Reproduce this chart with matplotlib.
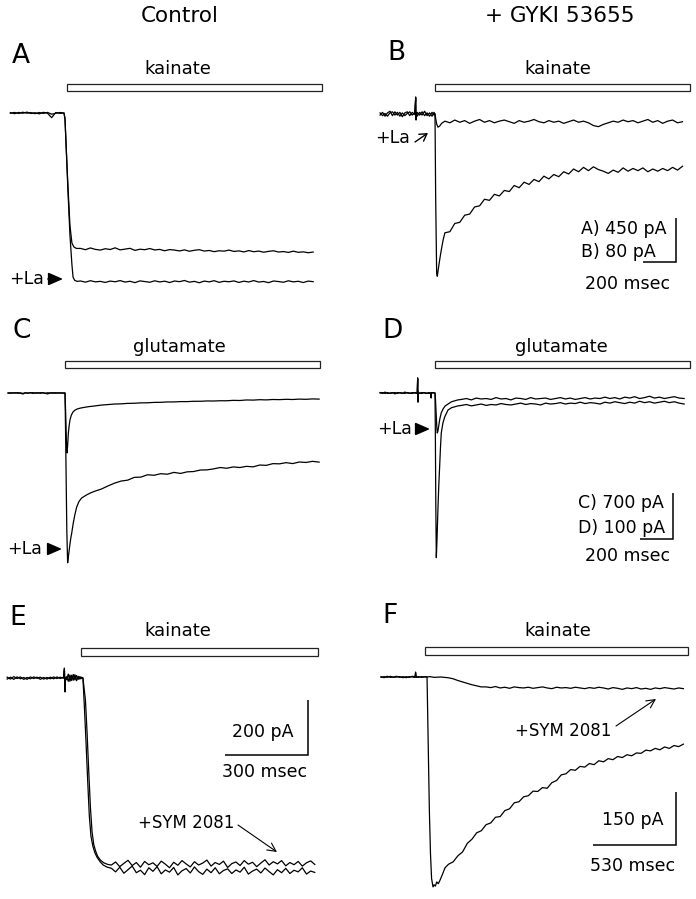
import numpy as np
import matplotlib
matplotlib.use("Agg")
import matplotlib.pyplot as plt
from matplotlib.patches import Rectangle

plt.rcParams['font.family'] = ['DejaVu Sans']

# ---------------- DATA (time in ms, current in pA, 0 = baseline) ----------------
# Panel A : Control, kainate (control trace and +La trace)
A_pre_t = np.arange(-325, 1, 25)
A_ctrl_pre = [4, -7, 6, -3, 9, -5, 3, -9, 7, -2, -48, 5, -4, 0]
A_la_pre = [-3, 6, -5, 8, -2, 4, -7, 5, -4, 6, -12, -3, 5, 0]
A_ctrl_rise_t = [6, 12, 24, 36, 48, 60, 75]
A_ctrl_rise = [-60, -300, -750, -1150, -1330, -1370, -1385]
A_la_rise_t = [6, 12, 24, 36, 48, 55, 65, 80]
A_la_rise = [-60, -300, -800, -1250, -1550, -1680, -1712, -1722]
A_plat_t = np.arange(100, 1521, 30)
A_ctrl_plat = [-1385, -1398, -1380, -1395, -1402, -1388, -1396, -1379, -1400, -1392,
               -1384, -1405, -1393, -1398, -1386, -1401, -1395, -1409, -1397, -1402,
               -1411, -1400, -1414, -1404, -1398, -1412, -1406, -1418, -1409, -1413,
               -1402, -1416, -1410, -1421, -1407, -1419, -1412, -1424, -1415, -1409,
               -1422, -1417, -1426, -1413, -1425, -1420, -1429, -1422]
A_la_plat = [-1718, -1730, -1715, -1727, -1722, -1733, -1719, -1726, -1714, -1729,
             -1721, -1735, -1717, -1724, -1731, -1716, -1728, -1720, -1734, -1718,
             -1725, -1713, -1730, -1722, -1736, -1719, -1727, -1715, -1732, -1721,
             -1726, -1717, -1733, -1720, -1728, -1714, -1729, -1723, -1735, -1718,
             -1724, -1731, -1716, -1727, -1721, -1734, -1719, -1725]
A_drug = (18, 1563)

# Panel B : + GYKI 53655, kainate
B_pre_t = [-333, -318, -303, -288, -273, -258, -243, -228, -213, -198,
           -183, -168, -153, -138, -123, -117, -115, -113, -108, -93,
           -78, -63, -48, -33, -18, -6, 0]
B_ctrl_pre = [-2, 3, -4, 2, 5, -3, 4, -2, 3, -5, 2, 4, -3, 3, -1, 31, -11, 2, -4, 3,
              -2, 5, -3, 2, -4, 3, 0]
B_la_pre = [2, -3, 1, -4, 2, 4, -2, 3, -4, 2, -3, 1, 4, -2, 2, 28, -9, -3, 3, -2,
            4, -3, 2, -4, 3, -2, 0]
B_ctrl_rise_t = [4, 10, 14, 20, 30, 40, 50]
B_ctrl_rise = [-150, -290, -295, -282, -262, -244, -228]
B_la_rise_t = [4, 10, 18, 28, 40, 50]
B_la_rise = [-8, -18, -24, -22, -17, -15]
B_plat_t = np.arange(60, 1521, 30)
B_ctrl_plat = [-216, -214, -199, -197, -184, -182, -169, -167, -155, -157,
               -146, -149, -139, -141, -130, -134, -124, -128, -119, -123,
               -113, -118, -110, -114, -105, -109, -100, -105, -97, -103,
               -96, -101, -104, -108, -102, -106, -98, -104, -99, -103,
               -98, -105, -100, -104, -99, -103, -97, -102, -95]
B_la_plat = [-13, -16, -11, -15, -12, -17, -13, -10, -15, -12,
             -16, -13, -11, -14, -17, -12, -15, -13, -10, -14,
             -16, -12, -15, -13, -17, -14, -11, -15, -13, -16,
             -21, -23, -19, -16, -13, -15, -11, -14, -12, -16,
             -13, -10, -15, -12, -17, -13, -11, -16, -14]
B_drug = (0, 1545)

# Panel C : Control, glutamate
C_pre_t = np.arange(-345, 1, 15)
C_ctrl_pre = [3, -5, 4, -2, 6, -4, -15, 2, -3, 5, -6, 3, -2, 4, 6, -5, -14, 3, -4, 5, -2, 4, -3, 0]
C_la_pre = [-3, 4, -2, 5, -4, 2, -6, 4, -2, 3, 5, -3, 4, -5, 2, -3, 4, -2, 5, -4, 3, -2, 2, 0]
C_ctrl_rise_t = [4, 8, 12, 16, 20, 25, 30, 38, 48, 60, 75]
C_ctrl_rise = [-300, -700, -912, -800, -620, -500, -410, -340, -290, -262, -242]
C_la_rise_t = [3, 7, 11, 16, 20, 25, 30, 35, 41, 50, 60, 71, 85, 100, 115, 135, 155]
C_la_rise = [-500, -1300, -2100, -2584, -2500, -2400, -2300, -2210, -2128, -1980,
             -1850, -1733, -1650, -1600, -1575, -1545, -1520]
C_ctrl_plat_t = np.arange(100, 1541, 40)
C_ctrl_plat = [-226, -209, -197, -184, -176, -168, -165, -158, -156, -150, -149, -143,
               -142, -136, -136, -131, -131, -126, -126, -121, -122, -118, -118, -112,
               -114, -106, -108, -102, -105, -99, -101, -96, -99, -93, -96, -90, -93]
C_la_plat_t = np.arange(180, 1541, 40)
C_la_plat = [-1495, -1462, -1415, -1372, -1340, -1326, -1284, -1280, -1244, -1252,
             -1228, -1236, -1208, -1224, -1200, -1195, -1172, -1170, -1155, -1134,
             -1145, -1125, -1134, -1116, -1124, -1096, -1101, -1075, -1078, -1060,
             -1074, -1050, -1057, -1040, -1052]
C_drug = (0, 1545)

# Panel D : + GYKI 53655, glutamate
D_pre_t = [-333, -318, -303, -288, -273, -258, -243, -228, -213, -198,
           -183, -168, -153, -138, -123, -108, -105, -103, -101, -96,
           -81, -66, -51, -36, -27, -24, -21, -12, 0]
D_ctrl_pre = [1, -1, 2, -1, 0, 1, -2, 1, 0, -1, 2, 0, -1, 1, 0, -1, 33, -20, 2, 0,
              -1, 1, 0, -1, 0, -11, 0, 1, 0]
D_la_pre = [0, 1, -1, 1, -1, 0, 1, -1, 1, 0, -1, 1, 0, -1, 1, 0, 30, -18, 1, -1,
            1, 0, -1, 1, 0, -9, 1, 0, 0]
D_ctrl_rise_t = [2, 5, 8, 12, 18, 23, 28, 33, 38, 48, 59, 79, 100, 139]
D_ctrl_rise = [-80, -250, -358, -320, -250, -200, -161, -120, -87, -65, -52, -37, -32, -28]
D_la_rise_t = [3, 7, 11, 14, 18, 24, 30, 38, 50, 62, 79, 100, 139]
D_la_rise = [-15, -45, -75, -87, -82, -68, -55, -43, -34, -28, -24, -19, -15]
D_plat_t = np.arange(160, 1521, 30)
D_ctrl_plat = [-27, -25, -28, -26, -24, -27, -25, -26, -23, -25,
               -26, -24, -22, -25, -23, -24, -26, -22, -24, -23,
               -21, -24, -22, -23, -20, -23, -21, -22, -24, -20,
               -22, -19, -21, -23, -20, -22, -18, -21, -19, -22,
               -20, -18, -21, -19, -22, -24]
D_la_plat = [-14, -12, -15, -11, -13, -12, -14, -10, -13, -12,
             -15, -11, -12, -14, -10, -13, -12, -11, -14, -12,
             -10, -13, -11, -14, -12, -10, -13, -11, -12, -9,
             -12, -10, -13, -9, -11, -8, -12, -10, -7, -11,
             -9, -12, -10, -8, -11, -12]
D_drug = (0, 1545)

# Panel E : Control, kainate (control and +SYM 2081)
E_pre_t = [-267, -255, -243, -231, -219, -207, -195, -183, -171, -159,
           -147, -135, -123, -111, -99, -87, -75, -63, -60, -58,
           -56, -52, -46, -40, -34, -28, -22, -16, -10, -4, 2, 7]
E_ctrl_pre = [3, -4, 5, -2, 4, -5, 2, -3, 4, -1, 3, -4, 2, -3, 4, -2, 3, -1, 36, -51,
              2, -6, 14, -12, 10, -8, 12, -10, 6, -4, 3, 0]
E_sym_pre = [-4, 3, -5, 4, -3, 2, -5, 4, -2, 3, -5, 2, -4, 3, -3, 4, -2, 3, 30, -45,
             -3, 5, -12, 11, -9, 13, -7, 9, -5, 5, -2, 0]
E_ctrl_rise_t = [12, 18, 24, 30, 36, 43, 50, 58, 69, 80, 95]
E_ctrl_rise = [-100, -230, -370, -500, -575, -612, -635, -652, -668, -680, -688]
E_sym_rise_t = [16, 22, 28, 34, 40, 46, 53, 60, 70, 82, 97]
E_sym_rise = [-80, -200, -340, -470, -560, -605, -630, -648, -662, -672, -678]
E_plat_t = np.arange(110, 851, 15)
E_ctrl_plat = [-692, -705, -688, -710, -697, -684, -708, -699, -715, -690,
               -703, -686, -712, -698, -706, -689, -716, -701, -693, -709,
               -687, -704, -714, -695, -708, -690, -712, -700, -694, -711,
               -698, -706, -688, -713, -702, -695, -709, -691, -704, -716,
               -697, -708, -692, -711, -699, -705, -690, -713, -702, -707]
E_sym_plat = [-680, -669, -686, -674, -663, -682, -671, -688, -667, -679,
              -672, -685, -666, -677, -690, -670, -681, -664, -676, -687,
              -668, -680, -673, -662, -684, -671, -678, -666, -689, -675,
              -669, -682, -664, -677, -670, -686, -673, -661, -680, -668,
              -676, -664, -683, -671, -679, -667, -684, -672, -665, -678]
E_drug = (0, 855)

# Panel F : + GYKI 53655, kainate (control and +SYM 2081)
F_pre_t = [-281, -261, -241, -221, -201, -181, -161, -141, -121, -101,
           -81, -64, -60, -57, -54, -40, -20, 0, 13]
F_ctrl_pre = [1, -2, 2, -1, 0, 2, -1, 1, -2, 1, 0, -1, 14, 2, -1, 1, -1, 1, 0]
F_sym_pre = [-1, 1, -1, 2, -1, 0, 1, -2, 1, -1, 2, 0, 10, -1, 1, -1, 1, 0, 0]
F_ctrl_rise_t = [17, 22, 28, 35, 42, 51, 58, 66, 75, 85, 96, 110, 128]
F_ctrl_rise = [-100, -230, -380, -500, -570, -594, -588, -592, -580, -585, -575, -560, -540]
F_ctrl_plat_t = np.arange(150, 1669, 30)
F_ctrl_plat = [-530, -523, -506, -495, -471, -459, -441, -435, -418, -413,
               -397, -395, -378, -373, -356, -353, -339, -336, -323, -324,
               -313, -315, -299, -293, -277, -274, -262, -264, -253, -255,
               -245, -248, -237, -240, -231, -234, -225, -228, -220, -223,
               -215, -216, -207, -209, -202, -206, -198, -202, -194, -197, -190]
F_sym_rise_t = [30, 60, 100, 147, 180, 210, 240, 270, 300, 330, 358]
F_sym_rise = [1, -1, 0, -2, -5, -10, -14, -18, -22, -25, -28]
F_sym_plat_t = np.arange(390, 1669, 30)
F_sym_plat = [-28, -30, -27, -31, -29, -32, -28, -30, -31, -29,
              -32, -30, -28, -31, -33, -29, -31, -30, -32, -29,
              -31, -33, -30, -32, -29, -31, -34, -30, -32, -35,
              -31, -33, -30, -34, -32, -35, -31, -33, -30, -32,
              -34, -31, -33]
F_drug = (0, 1680)

# Scale bar sizes (ms, pA)
SB_AB = (200, 80)      # drawn in B units (A: 450 pA)
SB_CD = (200, 100)     # drawn in D units (C: 700 pA)
SB_E = (300, 200)
SB_F = (530, 150)

# ---------------- LAYOUT ----------------
W, H = 696, 899
fig = plt.figure(figsize=(W / 100, H / 100), dpi=100)

# box (left, top, right, bottom) px; t0 px; baseline px; ms per px; pA per px
GEOM = {
    'A': dict(box=(0, 40, 348, 305), t0=64, base=113, ms=200 / 33, pa=450 / 44, bar=(84, 91)),
    'B': dict(box=(348, 40, 696, 305), t0=435, base=114, ms=200 / 33, pa=80 / 44, bar=(84, 91)),
    'C': dict(box=(0, 318, 348, 595), t0=65, base=393, ms=200 / 33, pa=700 / 46, bar=(361, 368)),
    'D': dict(box=(348, 318, 696, 595), t0=435, base=393, ms=200 / 33, pa=100 / 46, bar=(361, 368)),
    'E': dict(box=(0, 600, 348, 899), t0=81, base=678, ms=300 / 83, pa=200 / 55, bar=(648, 656)),
    'F': dict(box=(348, 600, 696, 899), t0=425, base=677, ms=530 / 83, pa=150 / 53, bar=(647, 655)),
}

LW = 0.9


def add_panel(g):
    l, t, r, b = g['box']
    ax = fig.add_axes([l / W, 1 - b / H, (r - l) / W, (b - t) / H])
    ax.set_xlim((l - g['t0']) * g['ms'], (r - g['t0']) * g['ms'])
    ax.set_ylim(-(b - g['base']) * g['pa'], -(t - g['base']) * g['pa'])
    ax.axis('off')
    return ax


def ypa(g, py):
    return -(py - g['base']) * g['pa']


def px_t(g, px):
    return (px - g['t0']) * g['ms']


def trace(ax, ts, vs):
    ax.plot(np.concatenate([np.asarray(x, float) for x in ts]),
            np.concatenate([np.asarray(v, float) for v in vs]),
            color='black', lw=LW, zorder=3)


def drug_bar(ax, g, span):
    y0, y1 = ypa(g, g['bar'][1]), ypa(g, g['bar'][0])
    ax.add_patch(Rectangle((span[0], y0), span[1] - span[0], y1 - y0,
                           facecolor='white', edgecolor='#222222', lw=0.9, zorder=2))


def scale_bar(ax, g, corner_px, size):
    ct, ci = px_t(g, corner_px[0]), ypa(g, corner_px[1])
    ax.plot([ct - size[0], ct, ct], [ci, ci, ci + size[1]], color='black', lw=1.1,
            solid_joinstyle='miter', solid_capstyle='butt', zorder=3)


def ftext(px, py, s, size=13, ha='center', va='center'):
    fig.text(px / W, 1 - py / H, s, fontsize=size, ha=ha, va=va, color='black')


def arrow(p_from, p_to, style, lw=0.9, ms=10):
    fig.add_artist(matplotlib.patches.FancyArrowPatch(
        (p_from[0] / W, 1 - p_from[1] / H), (p_to[0] / W, 1 - p_to[1] / H),
        transform=fig.transFigure, arrowstyle=style, lw=lw, mutation_scale=ms,
        color='black', shrinkA=0, shrinkB=0))


axA = add_panel(GEOM['A'])
axB = add_panel(GEOM['B'])
axC = add_panel(GEOM['C'])
axD = add_panel(GEOM['D'])
axE = add_panel(GEOM['E'])
axF = add_panel(GEOM['F'])

# Traces
trace(axA, [A_pre_t, A_ctrl_rise_t, A_plat_t], [A_ctrl_pre, A_ctrl_rise, A_ctrl_plat])
trace(axA, [A_pre_t, A_la_rise_t, A_plat_t], [A_la_pre, A_la_rise, A_la_plat])
trace(axB, [B_pre_t, B_ctrl_rise_t, B_plat_t], [B_ctrl_pre, B_ctrl_rise, B_ctrl_plat])
trace(axB, [B_pre_t, B_la_rise_t, B_plat_t], [B_la_pre, B_la_rise, B_la_plat])
trace(axC, [C_pre_t, C_ctrl_rise_t, C_ctrl_plat_t], [C_ctrl_pre, C_ctrl_rise, C_ctrl_plat])
trace(axC, [C_pre_t, C_la_rise_t, C_la_plat_t], [C_la_pre, C_la_rise, C_la_plat])
trace(axD, [D_pre_t, D_ctrl_rise_t, D_plat_t], [D_ctrl_pre, D_ctrl_rise, D_ctrl_plat])
trace(axD, [D_pre_t, D_la_rise_t, D_plat_t], [D_la_pre, D_la_rise, D_la_plat])
trace(axE, [E_pre_t, E_ctrl_rise_t, E_plat_t], [E_ctrl_pre, E_ctrl_rise, E_ctrl_plat])
trace(axE, [E_pre_t, E_sym_rise_t, E_plat_t], [E_sym_pre, E_sym_rise, E_sym_plat])
trace(axF, [F_pre_t, F_ctrl_rise_t, F_ctrl_plat_t], [F_ctrl_pre, F_ctrl_rise, F_ctrl_plat])
trace(axF, [F_pre_t, F_sym_rise_t, F_sym_plat_t], [F_sym_pre, F_sym_rise, F_sym_plat])

# Drug application bars
for ax, key, span in [(axA, 'A', A_drug), (axB, 'B', B_drug), (axC, 'C', C_drug),
                      (axD, 'D', D_drug), (axE, 'E', E_drug), (axF, 'F', F_drug)]:
    drug_bar(ax, GEOM[key], span)

# Scale bars
scale_bar(axB, GEOM['B'], (676, 262), SB_AB)
scale_bar(axD, GEOM['D'], (673, 539), SB_CD)
scale_bar(axE, GEOM['E'], (308, 755), SB_E)
scale_bar(axF, GEOM['F'], (676, 845), SB_F)

# Column titles
ftext(180, 16, 'Control', size=15.5)
ftext(560, 16, '+ GYKI 53655', size=15.5)

# Panel letters
for s, x, y in [('A', 12, 56), ('B', 387, 53), ('C', 12, 331), ('D', 382, 331),
                ('E', 9, 618), ('F', 382, 616)]:
    ftext(x, y, s, size=19, ha='left')

# Agonist labels
ftext(178, 69, 'kainate')
ftext(558, 69, 'kainate')
ftext(179, 347, 'glutamate')
ftext(561, 347, 'glutamate')
ftext(178, 631, 'kainate')
ftext(558, 631, 'kainate')

# +La labels and arrows
HEAD = '-|>,head_length=0.8,head_width=0.35'
ftext(9, 279, '+La', size=12.5, ha='left')
arrow((48, 279), (63, 279), HEAD, lw=1.2, ms=11)
ftext(7, 549, '+La', size=12.5, ha='left')
arrow((48, 549), (62, 549), HEAD, lw=1.2, ms=11)
ftext(377, 429, '+La', size=12.5, ha='left')
arrow((416, 429), (430, 429), HEAD, lw=1.2, ms=11)
ftext(375, 138, '+La', size=12.5, ha='left')
arrow((415, 142), (428, 133), '->,head_length=0.5,head_width=0.3', lw=1.0, ms=10)

# Scale labels
ftext(581, 229, 'A) 450 pA', size=12.5, ha='left')
ftext(581, 252, 'B) 80 pA', size=12.5, ha='left')
ftext(628, 284, '200 msec', size=12.5)
ftext(578, 503, 'C) 700 pA', size=12.5, ha='left')
ftext(578, 528, 'D) 100 pA', size=12.5, ha='left')
ftext(628, 556, '200 msec', size=12.5)
ftext(263, 732, '200 pA', size=12.5)
ftext(265, 772, '300 msec', size=12.5)
ftext(633, 820, '150 pA', size=12.5)
ftext(633, 866, '530 msec', size=12.5)

# +SYM 2081 labels and arrows
ftext(186, 823, '+SYM 2081', size=12)
arrow((238, 825), (277, 852), '->,head_length=0.6,head_width=0.3', lw=0.8, ms=10)
ftext(563, 731, '+SYM 2081', size=12)
arrow((616, 726), (656, 699), '->,head_length=0.6,head_width=0.3', lw=0.8, ms=10)

fig.savefig('out.png', dpi=100, facecolor='white')
